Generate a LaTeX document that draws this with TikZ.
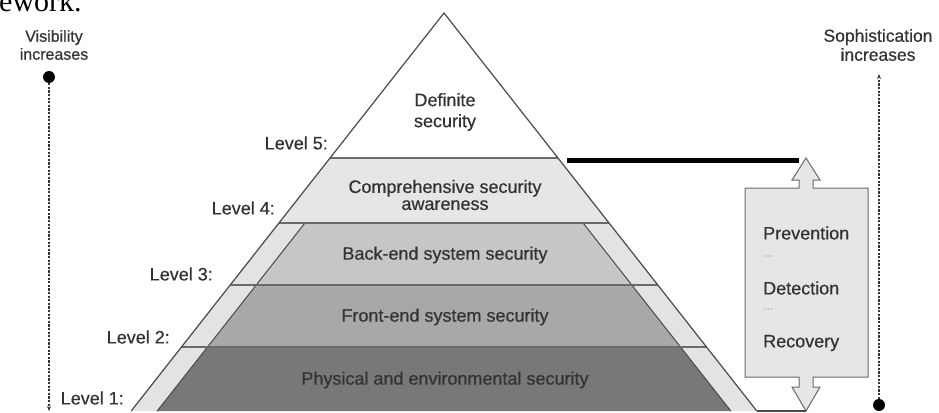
\documentclass[tikz,border=0pt]{standalone}
\usepackage{fontspec}
\setmainfont{Liberation Sans}[UprightFeatures={FakeBold=0.5}]
\newfontfamily\capserif{Liberation Serif}
\usetikzlibrary{arrows.meta}
\definecolor{txt}{HTML}{333333}
\definecolor{edge}{HTML}{4A4A4A}
\definecolor{hline}{HTML}{6A6A6A}
\definecolor{lvfour}{HTML}{E6E6E6}
\definecolor{strip}{HTML}{E3E3E3}
\definecolor{lvthree}{HTML}{C6C6C6}
\definecolor{lvtwo}{HTML}{A8A8A8}
\definecolor{lvone}{HTML}{787878}
\definecolor{boxfill}{HTML}{E6E6E6}
\tikzset{
  lbl/.style={text=txt,font=\fontsize{18}{20}\selectfont,inner sep=0pt,align=center},
  lvl/.style={lbl,anchor=east},
  side/.style={text=txt,inner sep=0pt,align=center},
  dotnode/.style={circle,fill=black,inner sep=0pt,minimum size=12pt},
  dashline/.style={draw=black!80,line width=1.2pt,dash pattern=on 2.2pt off 1.4pt},
}
\begin{document}
\begin{tikzpicture}[x=1pt,y=-1pt]
\useasboundingbox (0,0) rectangle (939,412);
\fill[white] (0,0) rectangle (939,412);
% caption fragment
\node[anchor=base west,inner sep=0pt,font=\capserif\fontsize{30}{30}\selectfont] (cap) at (-1,12) {ework.};
% level 4 band full width
\fill[lvfour] ({444-0.786*(158-13)},158) -- ({444+0.786*(158-13)},158) -- ({444+0.786*(223-13)},223) -- ({444-0.786*(223-13)},223) -- cycle;
% strip band for levels 1-3
\fill[strip] ({444-0.786*(223-13)},223) -- ({444+0.786*(223-13)},223) -- ({444+0.786*(411-13)},411) -- ({444-0.786*(411-13)},411) -- cycle;
% inner trapezoids
\fill[lvthree] ({444-0.786*(223-13)+26},223) -- ({444+0.786*(223-13)-26},223) -- ({444+0.786*(285-13)-26},285) -- ({444-0.786*(285-13)+26},285) -- cycle;
\fill[lvtwo] ({444-0.786*(285-13)+26},285) -- ({444+0.786*(285-13)-26},285) -- ({444+0.786*(347-13)-26},347) -- ({444-0.786*(347-13)+26},347) -- cycle;
\fill[lvone] ({444-0.786*(347-13)+26},347) -- ({444+0.786*(347-13)-26},347) -- ({444+0.786*(411-13)-26},411) -- ({444-0.786*(411-13)+26},411) -- cycle;
% inner edges
\draw[edge,line width=1pt] ({444-0.786*(223-13)+26},223) -- ({444-0.786*(411-13)+26},411);
\draw[edge,line width=1pt] ({444+0.786*(223-13)-26},223) -- ({444+0.786*(411-13)-26},411);
% horizontal boundaries
\foreach \yy in {158,223,285,347} {
  \draw[hline,line width=1.1pt] ({444-0.786*(\yy-13)},\yy) -- ({444+0.786*(\yy-13)},\yy);
}
% outer triangle
\coordinate (apex) at (444,13);
\coordinate (botL) at ({444-0.786*(411-13)},411);
\coordinate (botR) at ({444+0.786*(411-13)},411);
\draw[edge,line width=1.2pt] (botL) -- (apex) -- (botR);
% level texts
\node[lbl] (t5) at (445,112) {Definite\\[1pt]security};
\node[lbl] (t4) at (445,195) {Comprehensive security\\[-3pt]awareness};
\node[lbl] (t3) at (445,255) {Back-end system security};
\node[lbl] (t2) at (445,317) {Front-end system security};
\node[lbl] (t1) at (445,380) {Physical and environmental security};
\node[lvl] (l5) at (328,143) {Level 5:};
\node[lvl] (l4) at (275,208) {Level 4:};
\node[lvl] (l3) at (213,274) {Level 3:};
\node[lvl] (l2) at (170,337) {Level 2:};
\node[lvl] (l1) at (124,398) {Level 1:};
% block arrow box
\draw[draw=hline,fill=boxfill,line width=1pt]
  (806,158) -- (820,180) -- (813,180) -- (813,188) -- (868,188) -- (868,377)
  -- (813,377) -- (813,387) -- (820,387) -- (806,411) -- (792,387) -- (799,387)
  -- (799,377) -- (745,377) -- (745,188) -- (799,188) -- (799,180) -- (792,180) -- cycle;
\coordinate (uptip) at (806,158);
\coordinate (downtip) at (806,411);
\coordinate (lvfiveR) at (567,160);
\coordinate (thickend) at (799,160);
\draw[black,line width=5pt] (lvfiveR) -- (thickend);
\draw[edge,line width=1.2pt] (botR) -- (downtip);
\node[lbl,anchor=west] (prev) at (763,233) {Prevention};
\node[lbl,anchor=west,text=gray!60,font=\fontsize{12}{12}\selectfont] (d1) at (763,256) {...};
\node[lbl,anchor=west] (det) at (763,288) {Detection};
\node[lbl,anchor=west,text=gray!60,font=\fontsize{12}{12}\selectfont] (d2) at (763,309) {...};
\node[lbl,anchor=west] (rec) at (763,343) {Recovery};
% left side
\node[side,font=\fontsize{16}{18}\selectfont] (vis) at (54,45) {Visibility\\increases};
\node[dotnode] (ldot) at (49,77) {};
\coordinate (lend) at (49,411);
\draw[dashline,-{Stealth[length=5pt,width=4pt]}] (ldot) -- (lend);
% right side
\node[side,font=\fontsize{17.5}{19}\selectfont] (soph) at (878,45) {Sophistication\\increases};
\node[dotnode] (rdot) at (879,405) {};
\coordinate (rend) at (879,74);
\draw[dashline,-{Stealth[length=5pt,width=4pt]}] (rdot) -- (rend);
\end{tikzpicture}
\end{document}
